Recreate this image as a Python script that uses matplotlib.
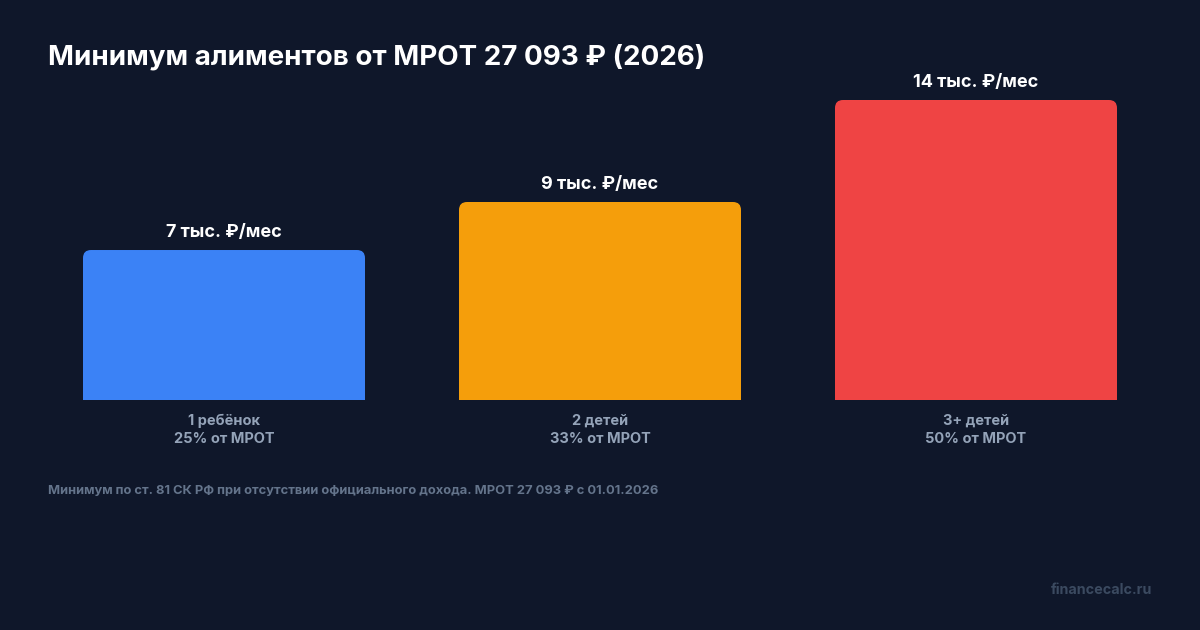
import matplotlib
matplotlib.use("Agg")
import matplotlib.pyplot as plt
from matplotlib.patches import FancyBboxPatch

plt.rcParams['font.family'] = ['Inter', 'DejaVu Sans']

mrot = 27093
categories = ["1 ребёнок", "2 детей", "3+ детей"]
shares = [25, 33, 50]
values = [6773, 8941, 13547]
value_labels = ["7 тыс. ₽/мес", "9 тыс. ₽/мес", "14 тыс. ₽/мес"]
colors = ["#3b82f6", "#f59e0b", "#ef4444"]

bg = "#0f172a"
W, H = 1200, 630
fig = plt.figure(figsize=(12, 6.3), dpi=100, facecolor=bg)

# axes: baseline at y=400px, tallest bar top at y=100px
ax = fig.add_axes([0, (H - 400) / H, 1, 300 / H])
ax.set_facecolor(bg)
ax.set_axis_off()
step = 376.0
center0 = 224.0
ax.set_xlim(-center0 / step, (W - center0) / step)
ax.set_ylim(0, max(values))

width = 282 / step
x_per_px = 1 / step
y_per_px = max(values) / 300
radius_px = 8

for i, (v, c) in enumerate(zip(values, colors)):
    patch = FancyBboxPatch((i - width / 2, -v * 0.2), width, v * 1.2,
                           boxstyle=f"round,pad=0,rounding_size={radius_px * x_per_px}",
                           mutation_aspect=y_per_px / x_per_px,
                           facecolor=c, edgecolor="none")
    ax.add_patch(patch)
    ax.text(i, v + 9 * y_per_px, value_labels[i], ha="center", va="bottom",
            color="white", fontsize=13, fontweight="bold", clip_on=False)
    ax.text(i, -14 * y_per_px, f"{categories[i]}\n{shares[i]}% от МРОТ", ha="center", va="top",
            color="#94a3b8", fontsize=10.5, fontweight="bold", linespacing=1.35,
            clip_on=False)

fig.text(48 / W, 1 - 57 / H, f"Минимум алиментов от МРОТ 27 093 ₽ (2026)", ha="left", va="center",
         color="white", fontsize=20, fontweight="bold")
fig.text(48 / W, 1 - 491 / H,
         "Минимум по ст. 81 СК РФ при отсутствии официального дохода. МРОТ 27 093 ₽ с 01.01.2026",
         ha="left", va="center", color="#64748b", fontsize=9.3, fontweight="bold")
fig.text(1152 / W, 1 - 590 / H, "financecalc.ru", ha="right", va="center",
         color="#3b4a60", fontsize=10.3, fontweight="bold")

fig.savefig("out.png", dpi=100, facecolor=bg)
